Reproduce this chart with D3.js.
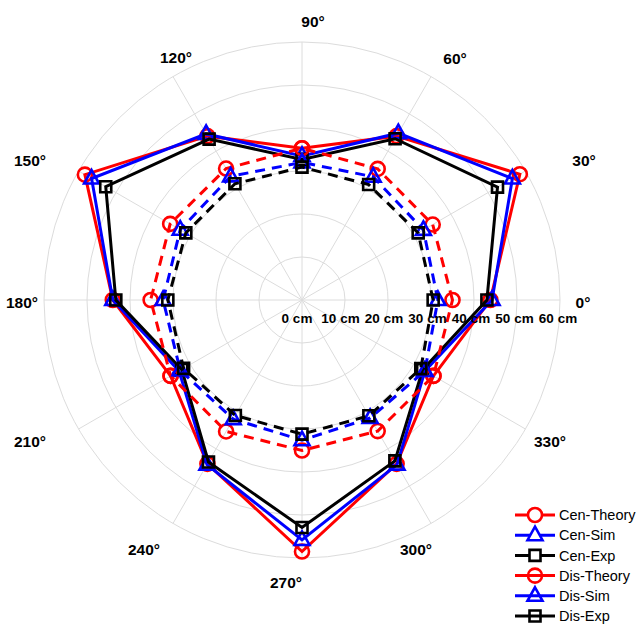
<!DOCTYPE html>
<html><head><meta charset="utf-8">
<script src="https://cdn.jsdelivr.net/npm/d3@7"></script>
<style>body{margin:0;background:#fff}svg{display:block}text{font-family:"Liberation Sans",Arial,sans-serif}</style>
</head><body><svg id="c" width="639" height="626"></svg>
<script>
// ---- data ----
const angles = [0, 30, 60, 90, 120, 150, 180, 210, 240, 270, 300, 330];
const cenTheory = [43.8, 58.5, 44.0, 35.3, 44.0, 58.3, 44.0, 35.3, 44.0, 58.5, 44.0, 35.3];
const cenSim    = [44.2, 56.5, 44.8, 33.5, 44.6, 56.5, 44.0, 33.0, 44.2, 55.8, 44.2, 33.0];
const cenExp    = [43.0, 52.5, 43.3, 32.7, 43.2, 52.7, 43.3, 32.3, 43.5, 52.9, 43.2, 32.4];
const disTheory = [35.0, 35.1, 35.2, 35.3, 35.3, 35.4, 35.2, 35.3, 35.3, 35.0, 35.2, 35.3];
const disSim    = [31.6, 32.6, 33.1, 32.0, 33.2, 32.7, 32.3, 32.7, 32.0, 32.6, 31.7, 33.0];
const disExp    = [30.5, 31.2, 31.0, 30.9, 31.2, 31.2, 31.2, 31.8, 31.0, 31.2, 31.1, 31.9];
const radialTicks = [0, 10, 20, 30, 40, 50, 60];
const radialTickLabels = ["0 cm", "10 cm", "20 cm", "30 cm", "40 cm", "50 cm", "60 cm"];
const angleTickLabels = ["0°", "30°", "60°", "90°", "120°", "150°", "180°", "210°", "240°", "270°", "300°", "330°"];
const seriesNames = ["Cen-Theory", "Cen-Sim", "Cen-Exp", "Dis-Theory", "Dis-Sim", "Dis-Exp"];

// ---- layout ----
const cx = 302, cy = 300, R = 258;
const colors = ["#ff0000", "#0000ff", "#000000", "#ff0000", "#0000ff", "#000000"];
const markers = ["circle", "triangle", "square", "circle", "triangle", "square"];
const dashed = [false, false, false, true, true, true];
const labelOffsets = [[281,2],[282,-140],[153,-242],[11,-279],[-126,-243],[-272,-140],[-280,2],[-272,141],[-158,249],[-16,282],[114,249],[248,141]];

const series = [cenTheory, cenSim, cenExp, disTheory, disSim, disExp];
const svg = d3.select("#c");
svg.append("rect").attr("width", 639).attr("height", 626).attr("fill", "#fff");
const g = svg.append("g").attr("transform", `translate(${cx},${cy})`);
const r = d3.scaleLinear().domain([0, 60]).range([0, R]);
const rad = a => a * Math.PI / 180;
const px = (a, v) => r(v) * Math.cos(rad(a));
const py = (a, v) => -r(v) * Math.sin(rad(a));

// grid
const gridColor = "#dcdcdc";
g.selectAll(".ring").data(radialTicks.filter(d => d > 0)).enter().append("circle")
  .attr("r", d => r(d)).attr("fill", "none").attr("stroke", gridColor).attr("stroke-width", 1);
g.selectAll(".spoke").data(angles).enter().append("line")
  .attr("x1", 0).attr("y1", 0).attr("x2", d => px(d, 60)).attr("y2", d => py(d, 60))
  .attr("stroke", gridColor).attr("stroke-width", 1);

// angle labels
g.selectAll(".alab").data(angleTickLabels).enter().append("text")
  .attr("x", (d, i) => labelOffsets[i][0]).attr("y", (d, i) => labelOffsets[i][1])
  .attr("dy", "0.36em").attr("text-anchor", "middle")
  .attr("font-size", 15.5).attr("font-weight", "bold").attr("fill", "#000").text(d => d);

// series lines
const line = d3.lineRadial().angle(d => rad(90 - d[0])).radius(d => r(d[1])).curve(d3.curveLinearClosed);
function markerPath(type) {
  if (type === "circle") return d3.symbol(d3.symbolCircle, 155)();
  if (type === "triangle") return "M0,-8.5L7.5,5L-7.5,5Z";
  return "M-5.5,-5.5H5.5V5.5H-5.5Z";
}
series.forEach((vals, i) => {
  const pts = angles.map((a, k) => [a, vals[k]]);
  const sg = g.append("g");
  sg.append("path").attr("d", line(pts)).attr("fill", "none")
    .attr("stroke", colors[i]).attr("stroke-width", 3)
    .attr("stroke-dasharray", dashed[i] ? "10,7" : null).attr("stroke-linejoin", "miter");
  sg.selectAll("path.m").data(pts).enter().append("path").attr("class", "m")
    .attr("d", markerPath(markers[i]))
    .attr("transform", d => `translate(${px(d[0], d[1])},${py(d[0], d[1])})`)
    .attr("fill", "none").attr("stroke", colors[i]).attr("stroke-width", 2.6);
});

// radial labels
g.selectAll(".rlab").data(radialTicks).enter().append("text")
  .attr("x", d => r(d) - 5 + d * 0.05).attr("y", 23).attr("text-anchor", "middle")
  .attr("font-size", 13.5).attr("font-weight", "bold").attr("fill", "#000")
  .text((d, i) => radialTickLabels[i]);

// legend
const lg = svg.append("g");
seriesNames.forEach((name, i) => {
  const y = 515 + i * 20.2;
  lg.append("line").attr("x1", 515).attr("x2", 555).attr("y1", y).attr("y2", y)
    .attr("stroke", colors[i]).attr("stroke-width", 3);
  lg.append("path").attr("d", markerPath(markers[i])).attr("transform", `translate(535,${y})`)
    .attr("fill", dashed[i] ? "none" : "#fff").attr("stroke", colors[i]).attr("stroke-width", 2.6);
  lg.append("text").attr("x", 559).attr("y", y).attr("dy", "0.36em")
    .attr("font-size", 14.5).attr("fill", "#000").text(name);
});
</script></body></html>
